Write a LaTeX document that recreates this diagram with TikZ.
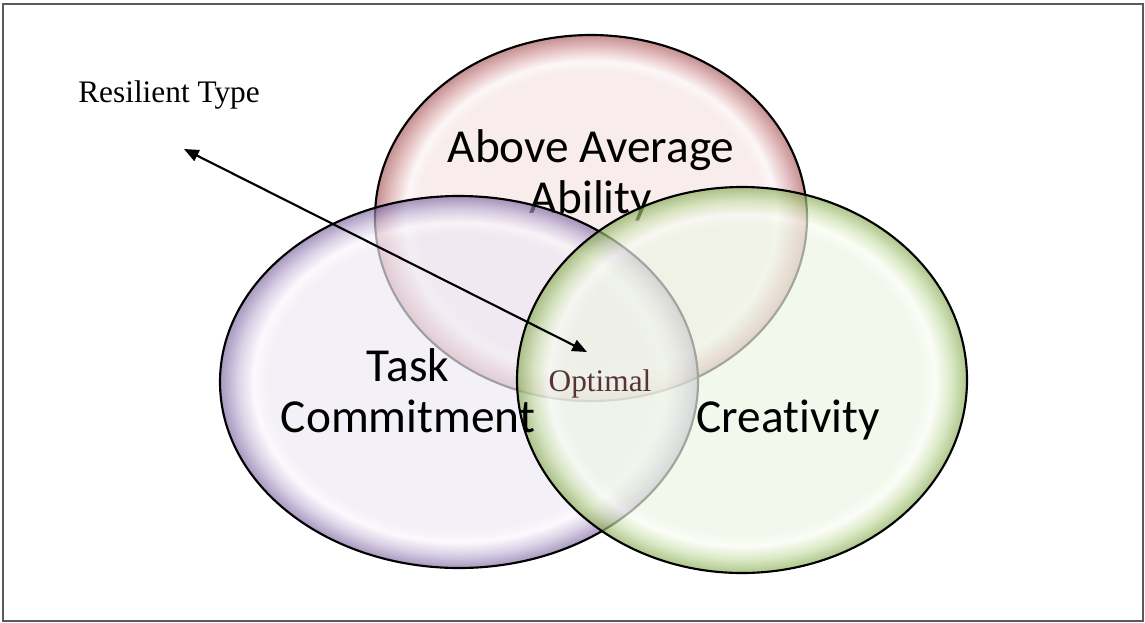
\documentclass[tikz,border=0pt]{standalone}
\usepackage{fontspec}
\setmainfont{Liberation Serif}
\newfontfamily\calibri[Ligatures=NoCommon]{Carlito}
\usepackage{tikz}
\usetikzlibrary{arrows.meta, positioning}
\tikzset{>=stealth}

\definecolor{redin}{HTML}{F4E3E5}
\definecolor{redhl}{HTML}{FBF3F4}
\definecolor{redmid}{HTML}{DBA8AA}
\definecolor{redrim}{HTML}{A85A5C}
\definecolor{purin}{HTML}{EEE9F3}
\definecolor{purhl}{HTML}{F9F7FC}
\definecolor{purmid}{HTML}{C8BBDA}
\definecolor{purrim}{HTML}{7E68A0}
\definecolor{grnin}{HTML}{EDF5E5}
\definecolor{grnhl}{HTML}{F9FCF3}
\definecolor{grnmid}{HTML}{CBE0AC}
\definecolor{grnrim}{HTML}{88AA55}
\definecolor{framegray}{HTML}{5A5A5A}
\definecolor{optimalcol}{HTML}{573434}

\pgfdeclareradialshading{redbubble}{\pgfpointorigin}{color(0bp)=(redin); color(20bp)=(redin); color(21.5bp)=(redhl); color(23.2bp)=(redmid); color(25bp)=(redrim); color(50bp)=(redrim)}
\pgfdeclareradialshading{purbubble}{\pgfpointorigin}{color(0bp)=(purin); color(20bp)=(purin); color(21.5bp)=(purhl); color(23.2bp)=(purmid); color(25bp)=(purrim); color(50bp)=(purrim)}
\pgfdeclareradialshading{grnbubble}{\pgfpointorigin}{color(0bp)=(grnin); color(20bp)=(grnin); color(21.5bp)=(grnhl); color(23.2bp)=(grnmid); color(25bp)=(grnrim); color(50bp)=(grnrim)}

\begin{document}
\begin{tikzpicture}[x=0.75pt, y=-0.75pt,
    bubble/.style={draw=black, line width=1.6pt, fill opacity=0.68},
    bigtext/.style={font=\calibri\fontsize{35.5}{38.25}\selectfont, align=center, inner sep=0pt},
    smalltext/.style={font=\fontsize{23.5}{28}\selectfont, inner sep=0pt}]
\useasboundingbox (0,0) rectangle (1145,622);
\draw [framegray, line width=1.5pt] (3,4) rectangle (1143,621);

% circles
\shadedraw [bubble, shading=redbubble] (591,218) ellipse [x radius=216, y radius=183];
\node [bigtext, anchor=base] (ability) at (591,213) {Above Average\\Ability};
\shadedraw [bubble, shading=purbubble] (459,382) ellipse [x radius=239, y radius=186];
\shadedraw [bubble, shading=grnbubble] (742,380) ellipse [x radius=225, y radius=193];

\node [bigtext, anchor=base] (task) at (408,432) {Task\\Commitment};
\node [bigtext, anchor=base] (creativity) at (788,432) {Creativity};
\node [smalltext, anchor=base, text=optimalcol] (optimal) at (600,391) {Optimal};
\node [smalltext, anchor=base] (resilient) at (169,102) {Resilient Type};

\coordinate (tipout) at (184,149);
\coordinate (tipin) at (587,352);
\draw [{Triangle[length=11pt,width=9pt]}-{Triangle[length=11pt,width=9pt]}, line width=1.6pt] (tipout) -- (tipin);
\end{tikzpicture}
\end{document}
